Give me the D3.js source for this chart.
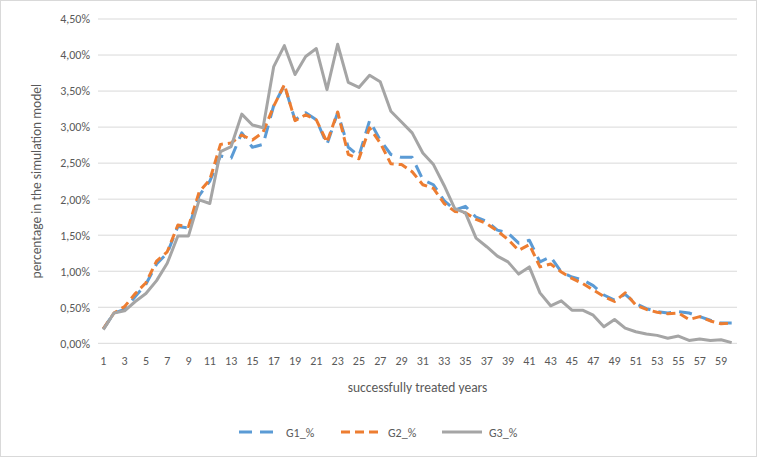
<!DOCTYPE html>
<html>
<head>
<meta charset="utf-8">
<script src="https://cdn.jsdelivr.net/npm/d3@7"></script>
<style>
  html, body { margin: 0; padding: 0; background: #fff; }
  #viz { width: 757px; height: 457px; }
  text { font-family: Carlito, "Liberation Sans Narrow", "Open Sans", sans-serif; fill: #595959; }
</style>
</head>
<body>
<div id="viz"></div>
<script>
// successfully treated years 1..60
const years = d3.range(1, 61);

// percentages (in %)
const g1 = [0.20, 0.42, 0.47, 0.65, 0.82, 1.10, 1.25, 1.62, 1.60, 2.05,
            2.25, 2.60, 2.57, 2.92, 2.72, 2.76, 3.30, 3.58, 3.10, 3.20,
            3.10, 2.76, 3.20, 2.72, 2.60, 3.09, 2.82, 2.62, 2.58, 2.58,
            2.27, 2.20, 1.98, 1.85, 1.90, 1.75, 1.69, 1.57, 1.53, 1.39,
            1.43, 1.13, 1.20, 0.99, 0.92, 0.88, 0.80, 0.67, 0.60, 0.68,
            0.55, 0.48, 0.44, 0.42, 0.44, 0.42, 0.37, 0.32, 0.28, 0.28];

const g2 = [0.20, 0.42, 0.51, 0.69, 0.84, 1.14, 1.27, 1.64, 1.62, 2.10,
            2.27, 2.76, 2.78, 2.89, 2.82, 2.93, 3.29, 3.59, 3.09, 3.17,
            3.10, 2.79, 3.21, 2.62, 2.56, 2.99, 2.78, 2.49, 2.48, 2.38,
            2.20, 2.15, 1.94, 1.83, 1.81, 1.72, 1.66, 1.56, 1.44, 1.29,
            1.37, 1.06, 1.10, 0.99, 0.90, 0.83, 0.74, 0.65, 0.58, 0.70,
            0.53, 0.47, 0.43, 0.41, 0.42, 0.33, 0.37, 0.31, 0.27, 0.28];

const g3 = [0.19, 0.42, 0.45, 0.58, 0.69, 0.87, 1.11, 1.49, 1.49, 1.99,
            1.94, 2.66, 2.73, 3.18, 3.03, 2.99, 3.84, 4.13, 3.73, 3.98,
            4.09, 3.52, 4.15, 3.62, 3.55, 3.72, 3.63, 3.22, 3.07, 2.92,
            2.64, 2.48, 2.19, 1.87, 1.81, 1.46, 1.34, 1.21, 1.13, 0.96,
            1.06, 0.70, 0.52, 0.59, 0.46, 0.46, 0.39, 0.23, 0.33, 0.21,
            0.16, 0.13, 0.11, 0.07, 0.10, 0.04, 0.06, 0.04, 0.05, 0.01];

const yTicks = d3.range(0, 4.51, 0.5);
const xTickLabels = years.filter(d => d % 2 === 1);

const series = [
  { name: "G1_%", values: g1, color: "#5B9BD5", dash: "13,8" },
  { name: "G2_%", values: g2, color: "#ED7D31", dash: "9,5" },
  { name: "G3_%", values: g3, color: "#A5A5A5", dash: null },
];

const width = 757, height = 457;
const plot = { left: 98, right: 737, top: 19, bottom: 343.3 };

const svg = d3.select("#viz").append("svg")
  .attr("width", width)
  .attr("height", height);

// chart border
svg.append("rect")
  .attr("x", 0.5).attr("y", 0.5)
  .attr("width", width - 1).attr("height", height - 1)
  .attr("fill", "#fff")
  .attr("stroke", "#D9D9D9");

const x = d3.scaleBand().domain(years).range([plot.left, plot.right]);
const y = d3.scaleLinear().domain([0, 4.5]).range([plot.bottom, plot.top]);
const cx = d => x(d) + x.bandwidth() / 2;

const fmt = v => d3.format(".2f")(v).replace(".", ",") + "%";

// gridlines
svg.append("g")
  .selectAll("line")
  .data(yTicks)
  .join("line")
  .attr("x1", plot.left).attr("x2", plot.right)
  .attr("y1", d => y(d)).attr("y2", d => y(d))
  .attr("stroke", "#D9D9D9")
  .attr("stroke-width", 1);

// y axis labels
const yAxis = svg.append("g")
  .attr("transform", `translate(${plot.left},0)`)
  .call(d3.axisLeft(y).tickValues(yTicks).tickFormat(fmt).tickSize(0).tickPadding(8));
yAxis.select(".domain").remove();
yAxis.selectAll("text")
  .style("font-size", "12px")
  .style("fill", "#595959")
  .style("font-family", null);

// x axis labels
const xAxis = svg.append("g")
  .attr("transform", `translate(0,${plot.bottom})`)
  .call(d3.axisBottom(x).tickValues(xTickLabels).tickSize(0).tickPadding(13));
xAxis.select(".domain").remove();
xAxis.selectAll("text")
  .style("font-size", "12px")
  .style("fill", "#595959")
  .style("font-family", null);

// axis titles
svg.append("text")
  .attr("x", (plot.left + plot.right) / 2)
  .attr("y", 392)
  .attr("text-anchor", "middle")
  .style("font-size", "13.5px")
  .text("successfully treated years");

svg.append("text")
  .attr("transform", `translate(41,${(plot.top + plot.bottom) / 2}) rotate(-90)`)
  .attr("text-anchor", "middle")
  .style("font-size", "13.5px")
  .text("percentage in the simulation model");

// lines
const line = d3.line()
  .x((d, i) => cx(years[i]))
  .y(d => y(d));

svg.append("g")
  .selectAll("path")
  .data(series)
  .join("path")
  .attr("d", d => line(d.values))
  .attr("fill", "none")
  .attr("stroke", d => d.color)
  .attr("stroke-width", 3)
  .attr("stroke-dasharray", d => d.dash)
  .attr("stroke-linejoin", "round");

// legend
const legendX = [239, 341, 442];
const legend = svg.append("g")
  .selectAll("g")
  .data(series)
  .join("g")
  .attr("transform", (d, i) => `translate(${legendX[i]},432)`);

legend.append("line")
  .attr("x1", 0).attr("x2", 40)
  .attr("y1", 0).attr("y2", 0)
  .attr("stroke", d => d.color)
  .attr("stroke-width", 3)
  .attr("stroke-dasharray", d => d.dash);

legend.append("text")
  .attr("x", 47)
  .attr("y", 4.5)
  .style("font-size", "12px")
  .text(d => d.name);
</script>
</body>
</html>
